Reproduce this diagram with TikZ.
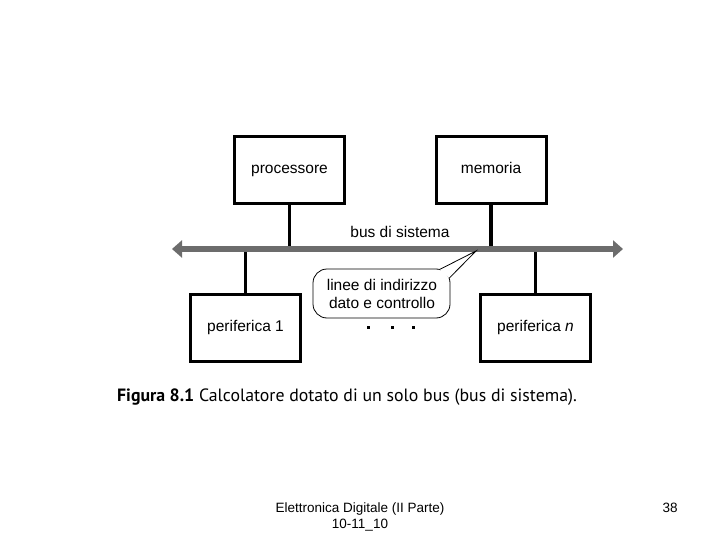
\documentclass[tikz,border=0pt]{standalone}
\usepackage{fontspec}
\setmainfont{Liberation Sans}
\newfontfamily\capfont{PT Sans}
\usetikzlibrary{arrows.meta}
\definecolor{busgray}{RGB}{108,108,108}
\begin{document}
\begin{tikzpicture}[x=1pt,y=-1pt,
  unit/.style={draw, line width=3pt, minimum width=110pt, minimum height=67pt, inner sep=0pt, text height=11pt, text depth=3pt, font=\fontsize{15.5}{18}\selectfont},
  link/.style={line width=3.5pt},
  bus/.style={line width=6pt, draw=busgray, {Triangle[length=10pt,width=17pt]}-{Triangle[length=10pt,width=17pt]}},
  lbl/.style={inner sep=0pt, font=\fontsize{15.5}{18}\selectfont},
  foot/.style={inner sep=0pt, anchor=base, font=\fontsize{13.5}{15}\selectfont}]
\useasboundingbox (0,0) rectangle (720,540);
% units
\node[unit] (p) at (289.5,170) {processore};
\node[unit] (m) at (491,170) {memoria};
\node[unit] (p1) at (245.5,327.5) {periferica 1};
\node[unit] (pn) at (535.5,327.5) {periferica \textit{n}};
% bus
\coordinate (busL) at (172,249);
\coordinate (busR) at (623,249);
\draw[link] (p.south) -- (p.south |- busL);
\draw[link] (m.south) -- (m.south |- busL);
\draw[link] (p1.north) -- (p1.north |- busL);
\draw[link] (pn.north) -- (pn.north |- busL);
\draw[bus] (busL) -- (busR);
\node[lbl] (buslbl) at (400,231.5) {bus di sistema};
% callout bubble
\draw[line width=0.8pt, fill=white, rounded corners=14pt] (313,269) rectangle (450,318);
\coordinate (tip) at (476,251);
\coordinate (b1) at (439.6,269.5);
\coordinate (b2) at (449.2,278.2);
\fill[white] (b1) -- (tip) -- (b2) -- cycle;
\draw[line width=0.8pt] (b1) -- (tip) -- (b2);
\node[lbl, align=center] (lines) at (382,294) {linee di indirizzo\\dato e controllo};
% dots
\fill (366.5,325.5) rectangle ++(3,3);
\fill (390.5,325.5) rectangle ++(3,3);
\fill (411.5,325.5) rectangle ++(3,3);
% caption
\node[anchor=base west, inner sep=0pt, font=\capfont\fontsize{17.8}{20}\selectfont] (cap) at (117,401) {\textbf{Figura 8.1} Calcolatore dotato di un solo bus (bus di sistema).};
% footer
\node[foot] (f1) at (360,512) {Elettronica Digitale (II Parte)};
\node[foot] (f2) at (360,528) {10-11\_10};
\node[foot] (f3) at (670,512) {38};
\end{tikzpicture}
\end{document}
